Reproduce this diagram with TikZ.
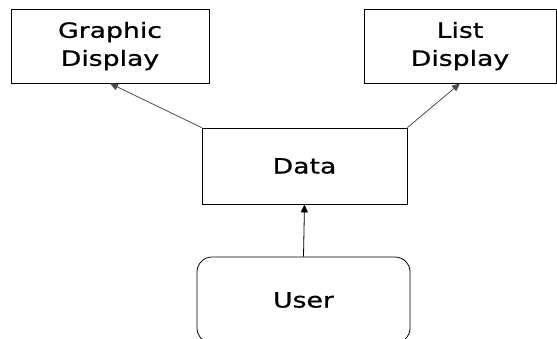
\documentclass[tikz,border=0pt]{standalone}
\usepackage{fontspec}
\setmainfont{DejaVu Sans}[FakeStretch=1.27, FakeBold=0.8]
\usetikzlibrary{arrows.meta}

\begin{document}
\begin{tikzpicture}[x=1pt, y=-1pt, line width=0.8pt,
    box/.style={draw, rectangle, inner sep=0pt, align=center,
        font=\fontsize{21}{28}\selectfont},
    link/.style={draw=black!70, -{Triangle[length=8pt, width=7pt]}}]
                \useasboundingbox (0,0) rectangle (557,338);
                \node[box, minimum width=198pt, minimum height=74pt] (graphic) at (110, 46) {Graphic\\Display};
                \node[box, minimum width=192pt, minimum height=74pt] (list) at (460, 46) {List\\Display};
                \node[box, minimum width=205pt, minimum height=76pt] (data) at (304.5, 166) {Data};
                \node[box, rounded corners=15pt, minimum width=213pt, minimum height=86pt] (user) at (303.5, 300) {User};
                \draw[link] (data.north west) to (graphic.south);
                \draw[link] (data.north east) to (list.south);
                \draw[link, draw=black] (user.north) to (data.south);
\end{tikzpicture}
\end{document}
